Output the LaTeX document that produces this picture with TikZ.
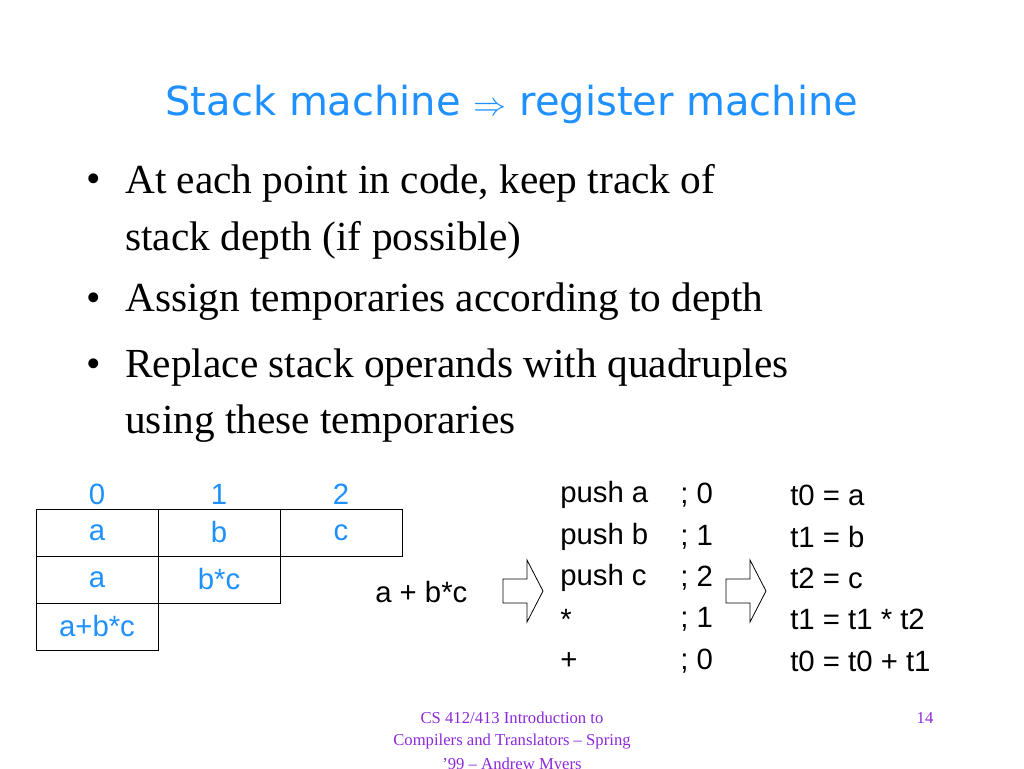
\documentclass[tikz,border=0pt]{standalone}
\usepackage{fontspec}
\setmainfont{Liberation Serif}
\setsansfont{Liberation Sans}
\newfontfamily\titlefont{DejaVu Sans}
\usetikzlibrary{positioning}
\definecolor{slideblue}{RGB}{30,144,255}
\definecolor{footpurple}{RGB}{140,40,220}
\tikzset{
  cell/.style={draw,minimum width=91.5pt,minimum height=35.25pt,inner sep=0pt,
    text=slideblue,font=\sffamily\fontsize{22}{22}\selectfont},
  idx/.style={text=slideblue,font=\sffamily\fontsize{22}{22}\selectfont},
  code/.style={anchor=west,inner sep=0pt,font=\sffamily\fontsize{22}{22}\selectfont},
  bul/.style={anchor=west,inner sep=0pt,font=\fontsize{31}{31}\selectfont},
  foot/.style={text=footpurple,font=\fontsize{12.5}{12.5}\selectfont,inner sep=0pt},
  blockarrow/.style={draw,fill=white,line width=0.6pt}
}
\begin{document}
\begin{tikzpicture}[x=0.75pt,y=-0.75pt]
\useasboundingbox (0,0) rectangle (1024,768);
% title
\node[text=slideblue,font=\titlefont\fontsize{30}{30}\selectfont] (title) at (512,104)
  {Stack machine $\Rightarrow$ register machine};
% bullets
\foreach \yy/\txt in {183/{At each point in code, keep track of},302/{Assign temporaries according to depth},368/{Replace stack operands with quadruples}}
  {\node[bul] at (86,\yy) {\textbullet};
   \node[bul] at (125,\yy) {\txt};}
\node[bul] (b1) at (125,240) {stack depth (if possible)};
\node[bul] (b3) at (125,424) {using these temporaries};
% stack table
\foreach \x/\n in {0/0,1/1,2/2} \node[idx] (h\n) at (97+122*\x,494) {\n};
\node[cell] (r1a) at (97,532.5) {a};
\node[cell] (r1b) at (219,532.5) {b};
\node[cell] (r1c) at (341,532.5) {c};
\node[cell] (r2a) at (97,579.5) {a};
\node[cell] (r2b) at (219,579.5) {b*c};
\node[cell] (r3a) at (97,626.5) {a+b*c};
% expression and arrows
\node[code] (expr) at (375,592) {a + b*c};
\draw[blockarrow] (503,579)--(527,579)--(527,560)--(543,591)--(527,622)--(527,603)--(503,603)--cycle;
\draw[blockarrow] (726,579)--(750,579)--(750,560)--(766,591)--(750,622)--(750,603)--(726,603)--cycle;
% stack code and quadruples
\foreach \yy/\ins/\dep/\quad in {495/push a/0/t0 = a,537/push b/1/t1 = b,578/push c/2/t2 = c,619/*/1/t1 = t1 * t2,661/+/0/t0 = t0 + t1}
  {\node[code] at (560,\yy) {\ins};
   \node[code] at (680,\yy) {; \dep};
   \node[code] at (790,\yy) {\quad};}
% footer
\node[foot] (f1) at (512,718) {CS 412/413 Introduction to};
\node[foot] (f2) at (512,742) {Compilers and Translators -- Spring};
\node[foot] (f3) at (512,766) {'99 -- Andrew Myers};
\node[foot] (pg) at (925,718) {14};
\end{tikzpicture}
\end{document}
